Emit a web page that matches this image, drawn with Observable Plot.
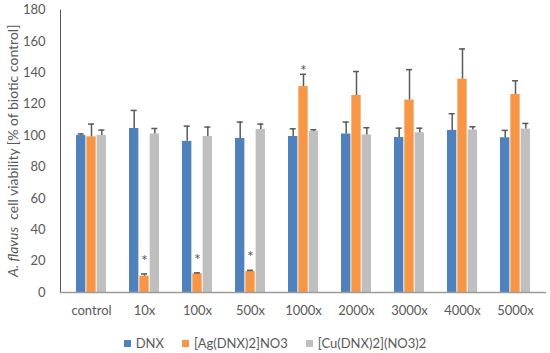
<!DOCTYPE html>
<html>
<head>
<meta charset="utf-8">
<script src="https://cdn.jsdelivr.net/npm/d3@7"></script>
<script src="https://cdn.jsdelivr.net/npm/@observablehq/plot@0.6"></script>
<style>
  body { margin: 0; background: #fff; font-family: Lato, "Noto Sans", sans-serif; }
  #legend { display: flex; justify-content: center; align-items: center; height: 20px; padding-top: 7px;
            font-size: 13px; color: #595959; gap: 18px; padding-left: 0px; }
  #legend .item { display: flex; align-items: center; }
  #legend .sw { width: 7px; height: 7px; margin-right: 5px; display: inline-block; }
</style>
</head>
<body>
<div id="chart"></div>
<div id="legend"></div>
<script>
const categories = ["control", "10x", "100x", "500x", "1000x", "2000x", "3000x", "4000x", "5000x"];
const series = ["DNX", "[Ag(DNX)2]NO3", "[Cu(DNX)2](NO3)2"];
const colors = ["#4F81BD", "#F79646", "#BFBFBF"];
const dnx    = [100, 104.5, 96.3, 98.2, 99.4, 101, 98.8, 103.3, 98.6];
const dnxErr = [1, 11.5, 9.7, 10.4, 4.9, 7.6, 5.9, 10.6, 4.7];
const ag     = [99.2, 10.4, 11.9, 13.4, 131.2, 125.5, 122.6, 135.9, 126.2];
const agErr  = [8.1, 1.4, 0.6, 0.7, 7.8, 15.3, 19.4, 19.3, 8.7];
const cu     = [100, 101, 99.4, 103.9, 102.6, 100.4, 101.8, 103.5, 104.1];
const cuErr  = [3.5, 3.5, 6, 3.4, 1.1, 4.6, 2.9, 2.1, 3.6];
const stars  = [null, 22.5, 23.5, 25, 143.5, null, null, null, null]; // "*" significance marks (orange series)
const yTicks = [0, 20, 40, 60, 80, 100, 120, 140, 160, 180];

const values = [dnx, ag, cu];
const errs = [dnxErr, agErr, cuErr];

const W = 550, H = 326, mL = 60, mR = 4, mT = 9.5, mB = 34;
const padIn = 0.426, padOut = 0.217;
const step = (W - mL - mR) / (categories.length - padIn + 2 * padOut);
const bw = step * (1 - padIn);
const barW = bw / 3;

const marks = [];
series.forEach((s, i) => {
  const rows = categories.map((c, j) => ({cat: c, value: values[i][j], err: errs[i][j], star: i === 1 ? stars[j] : null}));
  const off = (i - 1) * barW;
  marks.push(Plot.barY(rows, {x: "cat", y: "value", fill: colors[i],
    insetLeft: i * barW, insetRight: (2 - i) * barW}));
  marks.push(Plot.ruleX(rows, {x: "cat", y1: "value", y2: d => d.value + d.err, dx: off,
    stroke: "#595959", strokeWidth: 1.5}));
  marks.push(Plot.tickY(rows, {x: "cat", y: d => d.value + d.err, dx: off,
    insetLeft: (bw - 7) / 2, insetRight: (bw - 7) / 2, stroke: "#595959", strokeWidth: 1.5}));
  if (i === 1) {
    marks.push(Plot.text(rows.filter(d => d.star != null), {x: "cat", y: "star", text: () => "*", dx: off, dy: 4,
      fill: "#595959", fontSize: 16}));
  }
});
marks.push(Plot.ruleY([0], {stroke: "#9a9a9a", strokeWidth: 1.3}));

const plot = Plot.plot({
  width: W, height: H, marginLeft: mL, marginRight: mR, marginTop: mT, marginBottom: mB,
  style: {fontFamily: "Lato, 'Noto Sans', sans-serif", fontSize: "13px", color: "#595959", background: "#fff"},
  x: {domain: categories, paddingInner: padIn, paddingOuter: padOut, tickSize: 0, tickPadding: 13, label: null},
  y: {domain: [0, 180], ticks: yTicks, tickSize: 0, tickPadding: 15, label: null, line: true},
  marks
});
document.getElementById("chart").appendChild(plot);

// y title with italic species name
const svg = d3.select(plot);
const ys = plot.scale("y");
const yMid = (ys.apply(0) + ys.apply(180)) / 2;
const t = svg.append("text")
  .attr("transform", `translate(18,${yMid}) rotate(-90)`)
  .attr("text-anchor", "middle")
  .attr("fill", "#595959")
  .style("font-size", "14px");
t.append("tspan").attr("font-style", "italic").text("A. flavus");
t.append("tspan").text("  cell viability [% of biotic control]");

const lg = document.getElementById("legend");
series.forEach((s, i) => {
  const it = document.createElement("span");
  it.className = "item";
  it.innerHTML = `<span class="sw" style="background:${colors[i]}"></span>${s}`;
  lg.appendChild(it);
});
</script>
</body>
</html>
